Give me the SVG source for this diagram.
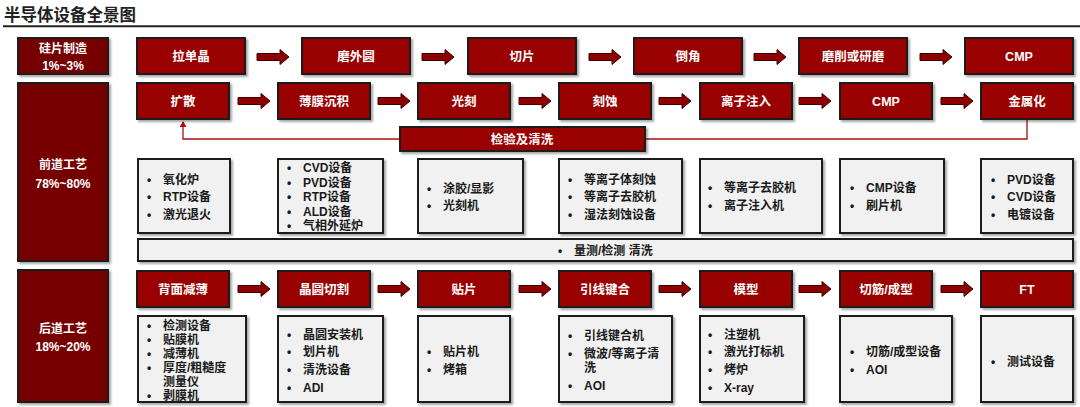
<svg xmlns="http://www.w3.org/2000/svg" xmlns:xlink="http://www.w3.org/1999/xlink" width="1080" height="407" viewBox="0 0 1080 407">
<defs>
<filter id="sh" x="-10%" y="-10%" width="130%" height="140%">
<feDropShadow dx="2" dy="2" stdDeviation="1.2" flood-color="#000" flood-opacity="0.35"/>
</filter>
<path id="blk" d="M0,-3.5 H23 V-7.5 L32,0 L23,7.5 V3.5 H0 Z" fill="#8e0000" stroke="#3a0000" stroke-width="1"/>
<marker id="ah" markerWidth="8" markerHeight="8" refX="5" refY="3.5" orient="auto" markerUnits="userSpaceOnUse">
<path d="M0,0 L6,3.5 L0,7 Z" fill="#a81010"/>
</marker>
</defs>
<style>
text{font-family:"Liberation Sans","Noto Sans CJK SC",sans-serif;font-weight:700}
.title{font-size:16.5px;fill:#222;font-family:"Noto Sans CJK SC",sans-serif}
.red{fill:#990000;stroke:#1e1e1e;stroke-width:2;filter:url(#sh)}
.side{fill:#760000;stroke:#1e1e1e;stroke-width:2;filter:url(#sh)}
.desc{fill:#f1f1f1;stroke:#1e1e1e;stroke-width:2;filter:url(#sh)}
.wt{fill:#fff;font-size:12.5px;text-anchor:middle}
.st{fill:#fff;font-size:12px;text-anchor:middle}
.dt{fill:#1a1a1a;font-size:12px}
.conn{fill:none;stroke:#a81010;stroke-width:1.3}
</style>
<rect width="1080" height="407" fill="#fff"/>
<text class="title" x="4" y="21">半导体设备全景图</text>
<line x1="3" y1="26.3" x2="1080" y2="26.3" stroke="#222" stroke-width="2"/>

<g id="connectors">
<path class="conn" d="M1027,119 V139 H183 V122" marker-end="url(#ah)"/>
<use xlink:href="#blk" x="257" y="57"/>
<use xlink:href="#blk" x="422" y="57"/>
<use xlink:href="#blk" x="589" y="57"/>
<use xlink:href="#blk" x="754" y="57"/>
<use xlink:href="#blk" x="920" y="57"/>
<use xlink:href="#blk" x="238" y="101"/>
<use xlink:href="#blk" x="378" y="101"/>
<use xlink:href="#blk" x="519" y="101"/>
<use xlink:href="#blk" x="659" y="101"/>
<use xlink:href="#blk" x="799" y="101"/>
<use xlink:href="#blk" x="941" y="101"/>
<use xlink:href="#blk" x="238" y="289"/>
<use xlink:href="#blk" x="378" y="289"/>
<use xlink:href="#blk" x="519" y="289"/>
<use xlink:href="#blk" x="659" y="289"/>
<use xlink:href="#blk" x="799" y="289"/>
<use xlink:href="#blk" x="941" y="289"/>
</g>

<g id="side-silicon"><rect class="side" x="18" y="38" width="90" height="36"/><text class="st" x="63" y="52.5">硅片制造</text><text class="st" x="63" y="70">1%~3%</text></g>
<g id="side-front"><rect class="side" x="18" y="83" width="90" height="178"/><text class="st" x="63" y="168.5">前道工艺</text><text class="st" x="63" y="187.5">78%~80%</text></g>
<g id="side-back"><rect class="side" x="18" y="270" width="90" height="132"/><text class="st" x="63" y="332.5">后道工艺</text><text class="st" x="63" y="351">18%~20%</text></g>

<g id="n-ladanjing"><rect class="red" x="137" y="38" width="108" height="36"/><text class="wt" x="191" y="60.5">拉单晶</text></g>
<g id="n-mowaiyuan"><rect class="red" x="302" y="38" width="108" height="36"/><text class="wt" x="356" y="60.5">磨外圆</text></g>
<g id="n-qiepian"><rect class="red" x="468" y="38" width="108" height="36"/><text class="wt" x="522" y="60.5">切片</text></g>
<g id="n-daojiao"><rect class="red" x="634" y="38" width="108" height="36"/><text class="wt" x="688" y="60.5">倒角</text></g>
<g id="n-moxue"><rect class="red" x="799" y="38" width="108" height="36"/><text class="wt" x="853" y="60.5">磨削或研磨</text></g>
<g id="n-cmp1"><rect class="red" x="965" y="38" width="108" height="36"/><text class="wt" x="1019" y="60.5">CMP</text></g>

<g id="n-kuosan"><rect class="red" x="137" y="83" width="92" height="36"/><text class="wt" x="183" y="105.5">扩散</text></g>
<g id="n-bomo"><rect class="red" x="278" y="83" width="92" height="36"/><text class="wt" x="324" y="105.5">薄膜沉积</text></g>
<g id="n-guangke"><rect class="red" x="418" y="83" width="92" height="36"/><text class="wt" x="464" y="105.5">光刻</text></g>
<g id="n-keshi"><rect class="red" x="559" y="83" width="92" height="36"/><text class="wt" x="605" y="105.5">刻蚀</text></g>
<g id="n-lizi"><rect class="red" x="700" y="83" width="92" height="36"/><text class="wt" x="746" y="105.5">离子注入</text></g>
<g id="n-cmp2"><rect class="red" x="840" y="83" width="92" height="36"/><text class="wt" x="886" y="105.5">CMP</text></g>
<g id="n-jinshu"><rect class="red" x="981" y="83" width="92" height="36"/><text class="wt" x="1027" y="105.5">金属化</text></g>

<g id="n-jianyan"><rect class="red" x="400" y="127" width="245" height="24"/><text class="wt" x="522" y="143.5">检验及清洗</text></g>

<g id="d-kuosan"><rect class="desc" x="138" y="159" width="92" height="74"/>
<text class="dt"><tspan x="147" y="183.5">•</tspan><tspan x="163" y="183.5">氧化炉</tspan><tspan x="147" y="201">•</tspan><tspan x="163" y="201">RTP设备</tspan><tspan x="147" y="218.5">•</tspan><tspan x="163" y="218.5">激光退火</tspan></text></g>
<g id="d-bomo"><rect class="desc" x="278" y="159" width="105" height="74"/>
<text class="dt"><tspan x="287" y="171.5">•</tspan><tspan x="303" y="171.5">CVD设备</tspan><tspan x="287" y="186.5">•</tspan><tspan x="303" y="186.5">PVD设备</tspan><tspan x="287" y="201">•</tspan><tspan x="303" y="201">RTP设备</tspan><tspan x="287" y="215.5">•</tspan><tspan x="303" y="215.5">ALD设备</tspan><tspan x="287" y="229.5">•</tspan><tspan x="303" y="229.5">气相外延炉</tspan></text></g>
<g id="d-guangke"><rect class="desc" x="418" y="159" width="105" height="74"/>
<text class="dt"><tspan x="427" y="192.5">•</tspan><tspan x="443" y="192.5">涂胶/显影</tspan><tspan x="427" y="209.5">•</tspan><tspan x="443" y="209.5">光刻机</tspan></text></g>
<g id="d-keshi"><rect class="desc" x="559" y="159" width="123" height="74"/>
<text class="dt"><tspan x="568" y="183.5">•</tspan><tspan x="584" y="183.5">等离子体刻蚀</tspan><tspan x="568" y="201">•</tspan><tspan x="584" y="201">等离子去胶机</tspan><tspan x="568" y="218.5">•</tspan><tspan x="584" y="218.5">湿法刻蚀设备</tspan></text></g>
<g id="d-lizi"><rect class="desc" x="700" y="159" width="122" height="74"/>
<text class="dt"><tspan x="708" y="192">•</tspan><tspan x="724" y="192">等离子去胶机</tspan><tspan x="708" y="210">•</tspan><tspan x="724" y="210">离子注入机</tspan></text></g>
<g id="d-cmp"><rect class="desc" x="840" y="159" width="104" height="74"/>
<text class="dt"><tspan x="850" y="192">•</tspan><tspan x="866" y="192">CMP设备</tspan><tspan x="850" y="210">•</tspan><tspan x="866" y="210">刷片机</tspan></text></g>
<g id="d-jinshu"><rect class="desc" x="981" y="159" width="92" height="74"/>
<text class="dt"><tspan x="991" y="183.5">•</tspan><tspan x="1007" y="183.5">PVD设备</tspan><tspan x="991" y="201">•</tspan><tspan x="1007" y="201">CVD设备</tspan><tspan x="991" y="218.5">•</tspan><tspan x="1007" y="218.5">电镀设备</tspan></text></g>

<g id="d-celiang"><rect class="desc" x="138" y="239" width="935" height="22"/>
<text class="dt"><tspan x="558" y="254.5">•</tspan><tspan x="574" y="254.5">量测/检测 清洗</tspan></text></g>

<g id="n-beimian"><rect class="red" x="137" y="271" width="92" height="36"/><text class="wt" x="183" y="293.5">背面减薄</text></g>
<g id="n-jingyuan"><rect class="red" x="278" y="271" width="92" height="36"/><text class="wt" x="324" y="293.5">晶圆切割</text></g>
<g id="n-tiepian"><rect class="red" x="418" y="271" width="92" height="36"/><text class="wt" x="464" y="293.5">贴片</text></g>
<g id="n-yinxian"><rect class="red" x="559" y="271" width="92" height="36"/><text class="wt" x="605" y="293.5">引线键合</text></g>
<g id="n-moxing"><rect class="red" x="700" y="271" width="92" height="36"/><text class="wt" x="746" y="293.5">模型</text></g>
<g id="n-qiejin"><rect class="red" x="840" y="271" width="92" height="36"/><text class="wt" x="886" y="293.5">切筋/成型</text></g>
<g id="n-ft"><rect class="red" x="981" y="271" width="92" height="36"/><text class="wt" x="1027" y="293.5">FT</text></g>

<g id="d-beimian"><rect class="desc" x="138" y="316" width="108" height="86"/>
<text class="dt"><tspan x="147" y="329.5">•</tspan><tspan x="163" y="329.5">检测设备</tspan><tspan x="147" y="343.5">•</tspan><tspan x="163" y="343.5">贴膜机</tspan><tspan x="147" y="358">•</tspan><tspan x="163" y="358">减薄机</tspan><tspan x="147" y="372">•</tspan><tspan x="163" y="372">厚度/粗糙度</tspan><tspan x="163" y="386">测量仪</tspan><tspan x="147" y="400">•</tspan><tspan x="163" y="400">剥膜机</tspan></text></g>
<g id="d-jingyuan"><rect class="desc" x="278" y="316" width="105" height="86"/>
<text class="dt"><tspan x="287" y="338.5">•</tspan><tspan x="303" y="338.5">晶圆安装机</tspan><tspan x="287" y="356">•</tspan><tspan x="303" y="356">划片机</tspan><tspan x="287" y="374">•</tspan><tspan x="303" y="374">清洗设备</tspan><tspan x="287" y="391.5">•</tspan><tspan x="303" y="391.5">ADI</tspan></text></g>
<g id="d-tiepian"><rect class="desc" x="418" y="316" width="92" height="86"/>
<text class="dt"><tspan x="427" y="356">•</tspan><tspan x="443" y="356">贴片机</tspan><tspan x="427" y="373.5">•</tspan><tspan x="443" y="373.5">烤箱</tspan></text></g>
<g id="d-yinxian"><rect class="desc" x="559" y="316" width="113" height="86"/>
<text class="dt"><tspan x="568" y="339.5">•</tspan><tspan x="584" y="339.5">引线键合机</tspan><tspan x="568" y="357.5">•</tspan><tspan x="584" y="357.5">微波/等离子清</tspan><tspan x="584" y="372">洗</tspan><tspan x="568" y="389.5">•</tspan><tspan x="584" y="389.5">AOI</tspan></text></g>
<g id="d-moxing"><rect class="desc" x="700" y="316" width="104" height="86"/>
<text class="dt"><tspan x="708" y="338.5">•</tspan><tspan x="724" y="338.5">注塑机</tspan><tspan x="708" y="356">•</tspan><tspan x="724" y="356">激光打标机</tspan><tspan x="708" y="373.5">•</tspan><tspan x="724" y="373.5">烤炉</tspan><tspan x="708" y="391.5">•</tspan><tspan x="724" y="391.5">X-ray</tspan></text></g>
<g id="d-qiejin"><rect class="desc" x="840" y="316" width="112" height="86"/>
<text class="dt"><tspan x="850" y="356">•</tspan><tspan x="866" y="356">切筋/成型设备</tspan><tspan x="850" y="373.5">•</tspan><tspan x="866" y="373.5">AOI</tspan></text></g>
<g id="d-ft"><rect class="desc" x="981" y="316" width="92" height="86"/>
<text class="dt"><tspan x="991" y="365.5">•</tspan><tspan x="1007" y="365.5">测试设备</tspan></text></g>
</svg>
